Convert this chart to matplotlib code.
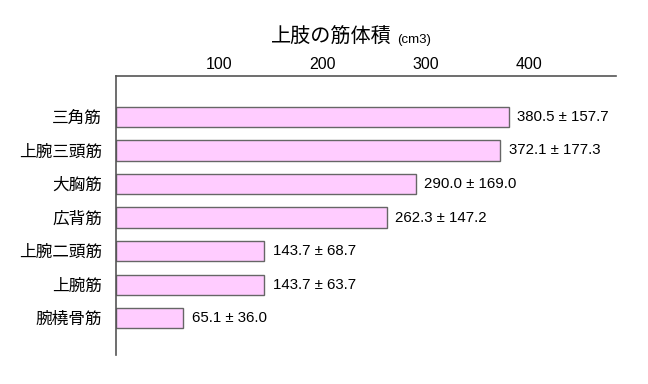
import matplotlib
matplotlib.use('Agg')
import matplotlib.pyplot as plt

plt.rcParams['font.family'] = ['Liberation Sans', 'Noto Sans CJK JP', 'DejaVu Sans']

# datos
musculos = ['三角筋', '上腕三頭筋', '大胸筋', '広背筋', '上腕二頭筋', '上腕筋', '腕橈骨筋']
medias = [380.5, 372.1, 290.0, 262.3, 143.7, 143.7, 65.1]
desvios = [157.7, 177.3, 169.0, 147.2, 68.7, 63.7, 36.0]
ticks = [100, 200, 300, 400]

fig = plt.figure(figsize=(6.48, 3.84), dpi=100)
ax = fig.add_axes([116/648, 1-355/384, 500/648, 279/384])

pos = list(range(len(musculos)))
ax.barh(pos, medias, height=0.6, color='#FFCCFF', edgecolor='#666666', linewidth=1.0)

for p, m, d in zip(pos, medias, desvios):
    ax.annotate('%.1f ± %.1f' % (m, d), xy=(m, p), xytext=(6, 0),
                textcoords='offset points', va='center', ha='left', fontsize=10.8)

ax.set_xlim(0, 484)
ax.set_ylim(7.1, -1.22)
ax.set_yticks(pos)
ax.set_yticklabels(musculos, fontsize=12)
ax.set_xticks(ticks)
ax.set_xticklabels([str(t) for t in ticks], fontsize=11.5)
ax.xaxis.tick_top()
ax.tick_params(axis='both', length=0)
ax.tick_params(axis='x', pad=3)
ax.tick_params(axis='y', pad=10)

for lado in ['right', 'bottom']:
    ax.spines[lado].set_visible(False)
for lado in ['top', 'left']:
    ax.spines[lado].set_color('#555555')
    ax.spines[lado].set_linewidth(1.2)

fig.text(271/648, 1-43/384, '上肢の筋体積', fontsize=14.5, ha='left', va='baseline')
fig.text(397/648, 1-43/384, '(cm3)', fontsize=9.5, ha='left', va='baseline')

plt.savefig('out.png', dpi=100)
